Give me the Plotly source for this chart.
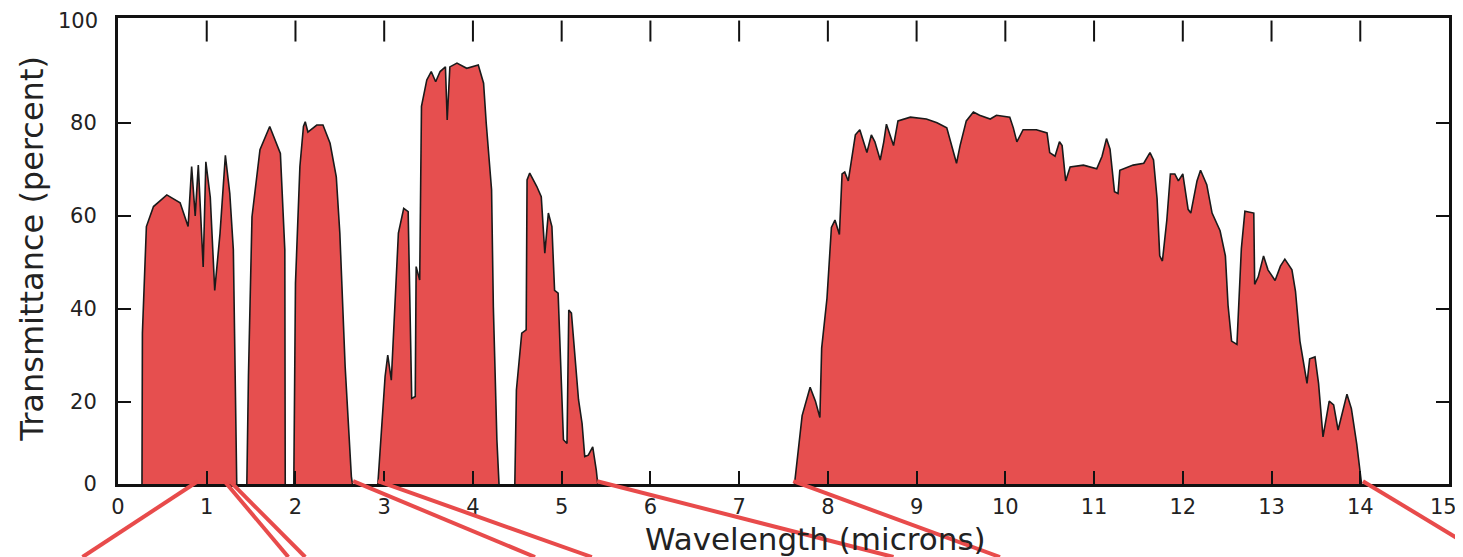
import plotly.graph_objects as go

# ---- data ----
wavelength = [
    0.00, 0.26,
    0.27, 0.275, 0.32, 0.40, 0.55, 0.70, 0.79, 0.83, 0.87, 0.905, 0.94, 0.96, 0.99, 1.04, 1.09,
    1.15, 1.21, 1.26, 1.30, 1.32, 1.34,
    1.45, 1.47, 1.51, 1.60, 1.71, 1.83, 1.88, 1.885,
    1.98, 2.00, 2.05, 2.09, 2.11, 2.14, 2.24, 2.31, 2.39, 2.46, 2.50, 2.56, 2.63, 2.66,
    2.92, 2.97, 3.01, 3.04, 3.08, 3.16, 3.22, 3.27, 3.31, 3.35, 3.36, 3.40, 3.42, 3.48, 3.53,
    3.58, 3.63, 3.69, 3.71, 3.74, 3.82, 3.93, 4.06, 4.12, 4.15, 4.21, 4.23, 4.27, 4.30,
    4.47, 4.49, 4.55, 4.60, 4.61, 4.64, 4.72, 4.77, 4.81, 4.85, 4.89, 4.92, 4.96, 5.02, 5.06,
    5.08, 5.11, 5.15, 5.19, 5.23, 5.26, 5.30, 5.35, 5.39, 5.42,
    7.61, 7.67, 7.71, 7.80, 7.86, 7.91, 7.93, 7.99, 8.04, 8.08, 8.13, 8.16, 8.19, 8.23, 8.31,
    8.36, 8.44, 8.49, 8.53, 8.59, 8.63, 8.66, 8.74, 8.79, 8.93, 9.11, 9.23, 9.34, 9.41, 9.45,
    9.49, 9.56, 9.64, 9.71, 9.83, 9.90, 10.05, 10.09, 10.13, 10.20, 10.35, 10.47, 10.50, 10.56,
    10.61, 10.64, 10.68, 10.73, 10.88, 11.03, 11.09, 11.14, 11.18, 11.23, 11.27, 11.29, 11.44,
    11.56, 11.63, 11.67, 11.71, 11.74, 11.77, 11.82, 11.86, 11.91, 11.95, 12.00, 12.06, 12.09,
    12.16, 12.20, 12.27, 12.33, 12.42, 12.48, 12.51, 12.55, 12.61, 12.66, 12.70, 12.80, 12.81,
    12.85, 12.91, 12.96, 13.04, 13.10, 13.15, 13.23, 13.27, 13.32, 13.40, 13.43, 13.49, 13.53,
    13.58, 13.65, 13.70, 13.75, 13.85, 13.90, 13.96, 14.00, 14.03,
    15.00,
]
transmittance = [
    0, 0,
    0, 34.8, 57.7, 62.0, 64.5, 62.8, 57.7, 70.6, 60.0, 70.9, 56.3, 49.0, 71.6, 64.0, 44.0,
    56.3, 73.0, 64.8, 52.7, 27.6, 0,
    0, 25.5, 59.8, 74.2, 79.2, 73.4, 52.7, 0,
    0, 45.5, 70.6, 79.2, 80.2, 78.0, 79.5, 79.5, 75.6, 68.4, 56.3, 27.6, 4.0, 0,
    0, 15.4, 25.5, 30.1, 24.7, 56.3, 61.6, 60.9, 20.8, 21.2, 49.1, 46.2, 83.5, 89.2, 91.0,
    88.8, 91.0, 92.0, 80.6, 92.0, 92.8, 91.7, 92.4, 88.5, 79.9, 65.6, 40.5, 11.9, 0,
    0, 22.6, 34.8, 35.5, 67.7, 69.2, 66.3, 64.1, 52.0, 60.6, 57.7, 44.0, 43.4, 11.9, 11.1,
    39.8, 39.1, 29.8, 20.5, 15.4, 8.3, 8.6, 10.4, 5.4, 0,
    0, 11.0, 17.1, 23.2, 20.2, 16.7, 31.6, 42.3, 57.5, 59.1, 56.0, 69.0, 69.4, 67.5, 77.4,
    78.5, 73.6, 77.4, 75.9, 72.0, 75.9, 79.7, 75.1, 80.4, 81.2, 80.8, 80.0, 78.9, 74.3, 71.3,
    75.1, 80.4, 82.3, 81.6, 80.8, 81.6, 81.2, 78.9, 75.9, 78.5, 78.5, 77.8, 73.6, 72.8,
    75.9, 75.1, 67.5, 70.5, 70.9, 70.1, 72.8, 76.6, 74.3, 65.2, 64.8, 69.8, 70.9,
    71.3, 73.6, 72.0, 63.7, 51.4, 50.3, 59.1, 69.0, 69.0, 67.5, 69.0, 61.4, 60.6,
    67.5, 69.8, 66.7, 60.6, 56.8, 51.4, 40.8, 33.1, 32.4, 53.0, 61.0, 60.6, 45.3,
    46.9, 51.4, 48.4, 46.1, 49.2, 50.7, 48.4, 43.8, 33.1, 24.0, 29.3, 29.7, 24.0,
    12.5, 20.2, 19.4, 14.0, 21.7, 18.6, 11.0, 4.0, 0,
    0,
]

x_ticks = list(range(0, 16))
x_tick_labels = [str(v) for v in x_ticks]
x_top_ticks = list(range(1, 15))
y_tick_labels = ["0", "20", "40", "60", "80", "100"]
y_tick_values = [2.41, 20, 40, 60, 80, 102.49]

# red pointer lines below the chart: wavelength at the axis -> wavelength-equivalent at the bottom
pointer_top = [0.90, 1.20, 1.26, 2.65, 2.93, 5.40, 7.61, 14.03]
pointer_bottom = [-0.40, 1.92, 2.11, 4.70, 5.34, 8.74, 9.94, 15.30]
pointer_bottom_y = [-0.1567, -0.1567, -0.1567, -0.1567, -0.1567, -0.1567, -0.1567, -0.14]

X_RANGE = [0, 15]
Y_RANGE = [2.4, 102.5]

FONT = "DejaVu Sans"
RED = "#E64F4F"
TICKFONT = dict(family=FONT, size=21, color="#222")

fig = go.Figure()
fig.add_trace(go.Scatter(
    x=wavelength, y=transmittance, mode="lines", fill="tozeroy",
    fillcolor=RED, line=dict(color="#1a1a1a", width=1.6), hoverinfo="skip",
    showlegend=False,
))
# detached tick marks along the top of the frame
fig.add_trace(go.Scatter(
    x=x_top_ticks, y=[99.7] * len(x_top_ticks), mode="markers",
    marker=dict(symbol="line-ns", size=15, line=dict(color="#111", width=2)),
    hoverinfo="skip", showlegend=False, cliponaxis=False,
))

def to_paper(v):
    return (v - X_RANGE[0]) / (X_RANGE[1] - X_RANGE[0])

for xt, xb, yb in zip(pointer_top, pointer_bottom, pointer_bottom_y):
    fig.add_shape(type="line", xref="paper", yref="paper",
                  x0=to_paper(xt), y0=0.006, x1=to_paper(xb), y1=yb,
                  line=dict(color="#E84B4B", width=4), layer="above")

# corner labels ("100" on y, "15" on x) are drawn as annotations, nudged inward
# like in the reference so they are not clipped by the page edge
y_ticktext = y_tick_labels[:-1] + [""]
x_ticktext = x_tick_labels[:-1] + [""]

annotations = [
    dict(text=y_tick_labels[-1], xref="paper", yref="paper", x=-0.0135, y=0.9936,
         showarrow=False, xanchor="right", yanchor="middle", font=TICKFONT),
    dict(text=x_tick_labels[-1], xref="paper", yref="paper", x=0.9955, y=-0.049,
         showarrow=False, xanchor="center", yanchor="middle", font=TICKFONT),
    dict(text="Transmittance (percent)", xref="paper", yref="paper",
         x=-0.0646, y=0.505, textangle=-90, showarrow=False,
         xanchor="center", yanchor="middle",
         font=dict(family=FONT, size=32, color="#222")),
    dict(text="Wavelength (microns)", xref="paper", yref="paper",
         x=0.5237, y=-0.118, showarrow=False, xanchor="center", yanchor="middle",
         font=dict(family=FONT, size=31, color="#222")),
]

# the page body has an 8px default margin, so the figure is offset by 8px
fig.update_layout(
    width=1455, height=549,
    margin=dict(l=110, r=14, t=10, b=73, autoexpand=False),
    paper_bgcolor="white", plot_bgcolor="white",
    font=dict(family=FONT, size=21, color="#222"),
    xaxis=dict(
        range=X_RANGE, tickvals=x_ticks, ticktext=x_ticktext, ticks="inside", ticklen=13,
        tickwidth=2, tickcolor="#111", showline=True, linewidth=3, linecolor="#111",
        mirror=True, showgrid=False, zeroline=False, ticklabelstandoff=2,
        automargin=False, ticklabeloverflow="allow", tickfont=TICKFONT,
    ),
    yaxis=dict(
        range=Y_RANGE, tickvals=y_tick_values, ticktext=y_ticktext, ticks="inside",
        ticklen=13, tickwidth=2, tickcolor="#111", showline=True, linewidth=3,
        linecolor="#111", mirror="ticks", showgrid=False, zeroline=False,
        ticklabelstandoff=14, automargin=False, ticklabeloverflow="allow",
        tickfont=TICKFONT,
    ),
    annotations=annotations,
)

fig.write_html("out.html")
